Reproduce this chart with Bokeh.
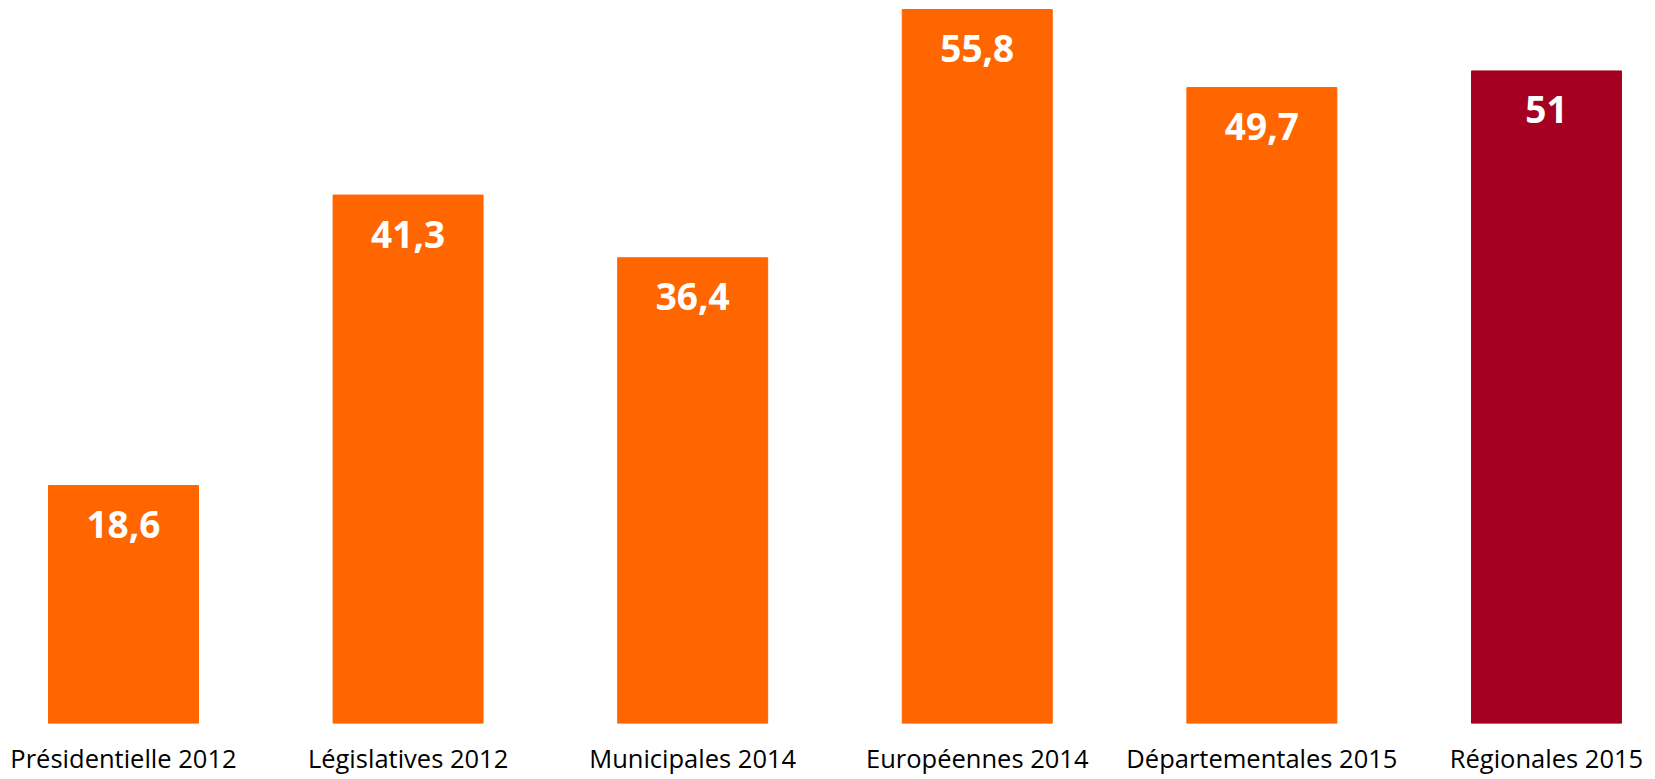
from bokeh.plotting import figure
from bokeh.models import ColumnDataSource, Range1d, FixedTicker
from bokeh.core.properties import value
from bokeh.embed import file_html
from bokeh.resources import INLINE

categories = ["Présidentielle 2012", "Législatives 2012", "Municipales 2014",
              "Européennes 2014", "Départementales 2015", "Régionales 2015"]
values = [18.6, 41.3, 36.4, 55.8, 49.7, 51]
colors = ["#FF6600", "#FF6600", "#FF6600", "#FF6600", "#FF6600", "#A50021"]

xs = list(range(len(categories)))
labels = [f"{v:g}".replace(".", ",") for v in values]

src = ColumnDataSource(dict(x=xs, top=values, color=colors, label=labels))

p = figure(frame_width=1639, frame_height=715, output_backend="svg",
           toolbar_location=None, x_range=Range1d(-0.404, 5.355),
           y_range=Range1d(0, 55.88), min_border_left=8, min_border_right=0,
           min_border_top=8, min_border_bottom=48)
p.vbar(x="x", top="top", bottom=0, width=0.527, color="color", source=src)
p.text(x="x", y="top", text="label", source=src, y_offset=39,
       text_align="center", text_baseline="middle", text_color="white",
       text_font=value("Open Sans"), text_font_style="bold",
       text_font_size="37px")

p.yaxis.visible = False
p.xgrid.visible = False
p.ygrid.visible = False
p.outline_line_color = None
ax = p.xaxis[0]
ax.ticker = FixedTicker(ticks=xs)
ax.major_label_overrides = {i: c for i, c in enumerate(categories)}
ax.axis_line_color = None
ax.major_tick_line_color = None
ax.minor_tick_line_color = None
ax.major_label_standoff = 11
ax.major_label_text_font = "Open Sans"
ax.major_label_text_font_size = "25.5px"
ax.major_label_text_color = "black"

open("out.html", "w").write(file_html(p, INLINE))
